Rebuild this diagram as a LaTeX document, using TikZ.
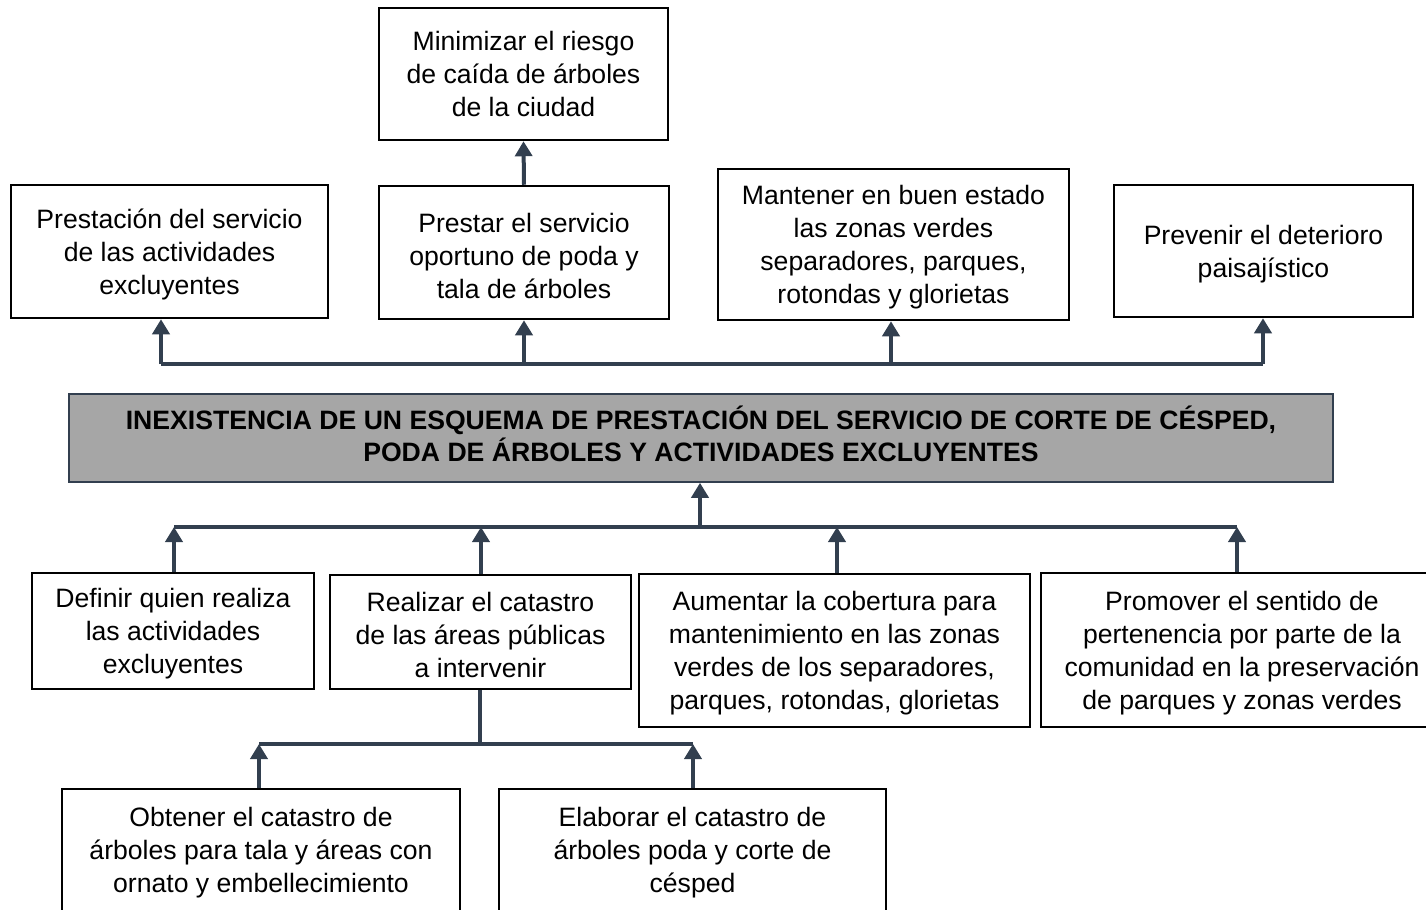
\documentclass[tikz,border=0pt]{standalone}
\usepackage{fontspec}
\setmainfont{Liberation Sans}
\usetikzlibrary{arrows.meta,fit}
\definecolor{slate}{RGB}{50,63,79}
\definecolor{probfill}{RGB}{166,166,166}
\begin{document}
\begin{tikzpicture}[x=0.5pt,y=-0.5pt,
  box/.style={draw=black,line width=1.25pt,fill=white,inner sep=0pt},
  txt/.style={inner sep=0pt,align=center,font=\fontsize{13.3}{16.5}\selectfont,yshift=-1.5pt},
  prob/.style={draw=slate,line width=0.8pt,fill=probfill,inner sep=0pt},
  probtxt/.style={inner sep=0pt,align=center,font=\fontsize{13.3}{16}\selectfont\bfseries,yshift=2pt},
  conn/.style={draw=slate,line width=2pt},
  arr/.style={conn,-{Triangle[width=8.5pt,length=7.5pt]}}]
\useasboundingbox (0,0) rectangle (1426,910);
\clip (0,0) rectangle (1426,910);
% top row
\node[box,fit={(379,8)(668,140)}] (A) {};
\node[txt,yshift=1.5pt] (At) at (A.center) {Minimizar el riesgo\\de caída de árboles\\de la ciudad};
\node[box,fit={(11,185)(328,318)}] (B) {};
\node[txt] (Bt) at (B.center) {Prestación del servicio\\de las actividades\\excluyentes};
\node[box,fit={(379,186)(669,319)}] (C) {};
\node[txt] (Ct) at (C.center) {Prestar el servicio\\oportuno de poda y\\tala de árboles};
\node[box,fit={(718,169)(1069,320)}] (D) {};
\node[txt] (Dt) at (D.center) {Mantener en buen estado\\las zonas verdes\\separadores, parques,\\rotondas y glorietas};
\node[box,fit={(1114,185)(1413,317)}] (E) {};
\node[txt] (Et) at (E.center) {Prevenir el deterioro\\paisajístico};
% central problem
\node[prob,fit={(69,394)(1333,482)}] (P) {};
\node[probtxt] (Pt) at (P.center) {INEXISTENCIA DE UN ESQUEMA DE PRESTACIÓN DEL SERVICIO DE CORTE DE CÉSPED,\\PODA DE ÁRBOLES Y ACTIVIDADES EXCLUYENTES};
% causes row 1
\node[box,fit={(32,573)(314,689)}] (F) {};
\node[txt] (Ft) at (F.center) {Definir quien realiza\\las actividades\\excluyentes};
\node[box,fit={(330,575)(631,689)}] (G) {};
\node[txt] (Gt) at (G.center) {Realizar el catastro\\de las áreas públicas\\a intervenir};
\node[box,fit={(639,574)(1030,727)}] (H) {};
\node[txt] (Ht) at (H.center) {Aumentar la cobertura para\\mantenimiento en las zonas\\verdes de los separadores,\\parques, rotondas, glorietas};
\node[box,fit={(1041,573)(1443,727)}] (I) {};
\node[txt] (It) at (1242,650) {Promover el sentido de\\pertenencia por parte de la\\comunidad en la preservación\\de parques y zonas verdes};
% causes row 2
\node[box,fit={(62,789)(460,911)}] (J) {};
\node[txt] (Jt) at (J.center) {Obtener el catastro de\\árboles para tala y áreas con\\ornato y embellecimiento};
\node[box,fit={(499,789)(886,911)}] (K) {};
\node[txt] (Kt) at (K.center) {Elaborar el catastro de\\árboles poda y corte de\\césped};
% top bus
\coordinate (t1) at (161,364);
\coordinate (t2) at (524,364);
\coordinate (t3) at (891,364);
\coordinate (t4) at (1263,364);
\draw[conn] (t1) -- (t4);
\draw[arr] (t1) -- (t1 |- B.south);
\draw[arr] (t2) -- (t2 |- C.south);
\draw[arr] (t3) -- (t3 |- D.south);
\draw[arr] (t4) -- (t4 |- E.south);
\draw[arr] (C.north) -- (A.south);
% middle bus
\coordinate (m0) at (700,527);
\coordinate (m1) at (174,527);
\coordinate (m2) at (481,527);
\coordinate (m3) at (837,527);
\coordinate (m4) at (1237,527);
\draw[conn] (m1) -- (m4);
\draw[arr] (m0) -- (m0 |- P.south);
\draw[arr] (m1 |- F.north) -- (m1);
\draw[arr] (m2 |- G.north) -- (m2);
\draw[arr] (m3 |- H.north) -- (m3);
\draw[arr] (m4 |- I.north) -- (m4);
% lower bus
\coordinate (b0) at (480,744);
\coordinate (b1) at (259,744);
\coordinate (b2) at (693,744);
\draw[conn] (b0 |- G.south) -- (b0);
\draw[conn] (b1) -- (b2);
\draw[arr] (b1 |- J.north) -- (b1);
\draw[arr] (b2 |- K.north) -- (b2);
\end{tikzpicture}
\end{document}
